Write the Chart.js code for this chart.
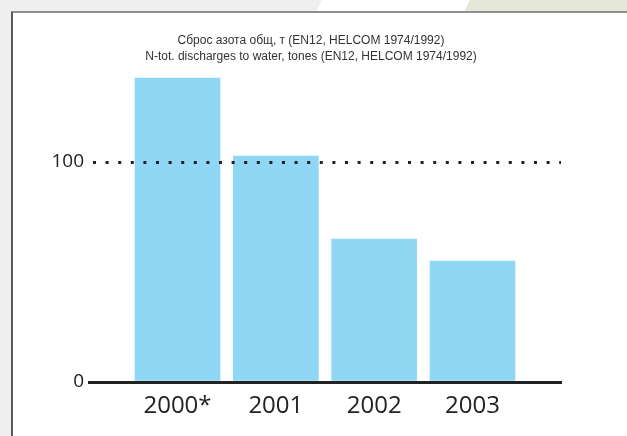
<!DOCTYPE html>
<html>
<head>
<meta charset="utf-8">
<script src="https://cdn.jsdelivr.net/npm/chart.js@4"></script>
<style>
  html, body { margin: 0; padding: 0; }
  body { width: 627px; height: 436px; position: relative; overflow: hidden; background: #eeefee; }
  .stripe { position: absolute; left: 0; top: 0; width: 627px; height: 436px; }
  .white { background: #ffffff; clip-path: polygon(322px 0, 470px 0, 440px 60px, 292px 60px); }
  .beige { background: #e5e7d9; clip-path: polygon(470px 0, 627px 0, 627px 60px, 440px 60px); }
  .panel { position: absolute; left: 11px; top: 11px; right: 0; bottom: 0; background: #fff;
           border-left: 2px solid #5a5a5a; border-top: 2px solid #8e8e8e; }
  canvas { position: absolute; left: 0; top: 0; }
</style>
</head>
<body>
<div class="stripe white"></div>
<div class="stripe beige"></div>
<div class="panel"></div>
<canvas id="chart1" width="627" height="436"></canvas>
<script>
let years = ["2000*", "2001", "2002", "2003"];
let values = [138.2, 102.7, 65, 55];
let yTicks = [0, 100];
let titleLines = [
  "Сброс азота общ, т (EN12, HELCOM 1974/1992)",
  "N-tot. discharges to water, tones (EN12, HELCOM 1974/1992)"
];

function chart1() {
  let ctx = document.getElementById('chart1').getContext("2d");
  let points = values.map((v, i) => ({ x: i, y: v }));
  let myChart = new Chart(ctx, {
    type: "bar",
    data: {
      datasets: [{
        data: points,
        backgroundColor: "#8fd7f5",
        barThickness: 85
      }]
    },
    options: {
      responsive: false,
      animation: false,
      devicePixelRatio: 1,
      scales: {
        x: {
          type: 'linear',
          min: -0.9,
          max: 3.9,
          offset: false,
          grid: { display: false, drawTicks: false },
          border: { display: true, color: '#222', width: 3, z: 1 },
          afterBuildTicks: (scale) => {
            scale.ticks = years.map((_, i) => ({ value: i }));
          },
          afterFit: (scale) => { scale.height = 54; },
          ticks: {
            autoSkip: false,
            maxRotation: 0,
            padding: 10,
            color: '#222',
            font: { family: 'Open Sans', size: 24 },
            callback: (v) => years[v]
          }
        },
        y: {
          min: 0,
          max: 140,
          afterBuildTicks: (scale) => {
            scale.ticks = yTicks.map(v => ({ value: v }));
          },
          afterFit: (scale) => { scale.width = 77; },
          grid: {
            drawTicks: false,
            z: 1,
            lineWidth: 3,
            color: (c) => c.tick && c.tick.value === 100 ? '#222' : 'rgba(0,0,0,0)'
          },
          border: { display: false, dash: [3, 9.6], dashOffset: -4 },
          ticks: {
            padding: 5,
            color: '#222',
            font: { family: 'Open Sans', size: 19 }
          }
        },
        y2: {
          position: 'right',
          display: true,
          grid: { display: false, drawTicks: false },
          border: { display: false },
          ticks: { display: false },
          afterFit: (scale) => { scale.width = 49; }
        }
      },
      plugins: {
        legend: { display: false },
        tooltip: { enabled: false },
        title: {
          display: true,
          text: titleLines,
          color: '#333',
          font: { family: 'Liberation Sans', size: 12, weight: 'normal', lineHeight: 1.375 },
          padding: { top: 20, bottom: 9 }
        }
      },
      layout: {
        padding: { left: 12, right: 17, top: 12, bottom: 0 }
      }
    }
  });
}

chart1();
</script>
</body>
</html>
